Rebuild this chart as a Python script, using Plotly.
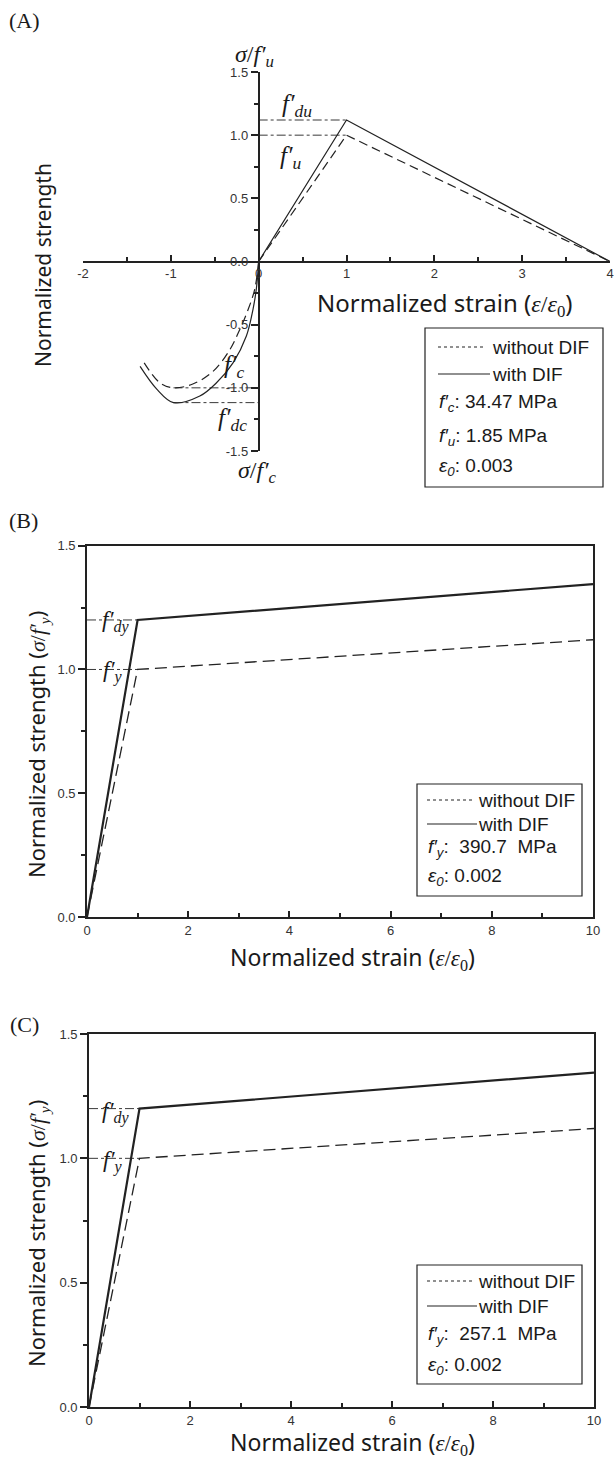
import plotly.graph_objects as go

W, H = 615, 1461
def px(x): return x / W
def py(y): return 1 - y / H

# ---------------- data ----------------
# Panel A: concrete (normalized strain, normalized strength)
a_ten_strain = [0, 1, 4]
a_ten_with = [0, 1.12, 0]
a_ten_without = [0, 1.0, 0]
a_comp_strain_with = [0, -0.027, -0.065, -0.14, -0.29, -0.48, -0.67, -0.97, -1.16, -1.35]
a_comp_with = [0, -0.22, -0.38, -0.59, -0.80, -0.96, -1.065, -1.117, -1.01, -0.83]
a_comp_strain_without = [0, -0.045, -0.12, -0.216, -0.33, -0.52, -0.75, -0.97, -1.125, -1.315]
a_comp_without = [0, -0.22, -0.38, -0.54, -0.70, -0.87, -0.97, -1.0, -0.96, -0.79]
a_ref_du = [1.12, 1.12]
a_ref_u = [1.0, 1.0]
a_ref_t_strain = [0, 1]
a_ref_dc = [-1.117, -1.117]
a_ref_c = [-1.0, -1.0]
a_ref_c_strain = [-0.97, 0]
a_xticks = [-2, -1, 0, 1, 2, 3, 4]
a_xticklabels = ["-2", "-1", "0", "1", "2", "3", "4"]
a_yticks = [-1.5, -1.0, -0.5, 0.0, 0.5, 1.0, 1.5]
a_yticklabels = ["-1.5", "-1.0", "-0.5", "0.0", "0.5", "1.0", "1.5"]

# Panel B & C: steel
s_strain = [0, 1, 10]
b_with = [0, 1.2, 1.345]
b_without = [0, 1.0, 1.12]
c_with = [0, 1.2, 1.345]
c_without = [0, 1.0, 1.12]
s_ref_strain = [0, 1]
s_ref_dy = [1.2, 1.2]
s_ref_y = [1.0, 1.0]

LC = "#222222"
TXT = "#1a1a1a"
SANS = "Liberation Sans"
TITLE = "Noto Sans"
SERIF = "Liberation Serif"

fig = go.Figure()

def line(x, y, xa, ya, width, dash=None, shape="linear"):
    fig.add_trace(go.Scatter(x=x, y=y, mode="lines", xaxis=xa, yaxis=ya,
                             line=dict(color=LC, width=width, dash=dash, shape=shape),
                             showlegend=False, hoverinfo="skip"))

# Panel A
line(a_ten_strain, a_ten_with, "x", "y", 1.2)
line(a_ten_strain, a_ten_without, "x", "y", 1.2, "9px,5px")
line(a_comp_strain_with, a_comp_with, "x", "y", 1.2, None, "spline")
line(a_comp_strain_without, a_comp_without, "x", "y", 1.2, "9px,5px", "spline")
line(a_ref_t_strain, a_ref_du, "x", "y", 0.9, "dashdot")
line(a_ref_t_strain, a_ref_u, "x", "y", 0.9, "dashdot")
line(a_ref_c_strain, a_ref_dc, "x", "y", 0.9, "dashdot")
line(a_ref_c_strain, a_ref_c, "x", "y", 0.9, "dashdot")

# Panel B
line(s_strain, b_with, "x2", "y2", 2.2)
line(s_strain, b_without, "x2", "y2", 1.3, "12px,6px")
line(s_ref_strain, s_ref_dy, "x2", "y2", 0.9, "dashdot")
line(s_ref_strain, s_ref_y, "x2", "y2", 0.9, "dashdot")

# Panel C
line(s_strain, c_with, "x3", "y3", 2.2)
line(s_strain, c_without, "x3", "y3", 1.3, "12px,6px")
line(s_ref_strain, s_ref_dy, "x3", "y3", 0.9, "dashdot")
line(s_ref_strain, s_ref_y, "x3", "y3", 0.9, "dashdot")

tickfont = dict(family=SANS, size=13, color="#333")
tickfont_b = dict(family=SANS, size=13, color="#333")

common = dict(showgrid=False, zeroline=False, showline=True, linecolor=LC, linewidth=1.8,
              tickcolor=LC, tickwidth=1.5, automargin=False)

fig.update_layout(
    width=W, height=H, margin=dict(l=0, r=0, t=0, b=0, pad=0, autoexpand=False),
    paper_bgcolor="white", plot_bgcolor="white", showlegend=False,
    xaxis=dict(domain=[px(83), px(610)], range=[-2, 4], anchor="free", position=py(261.5),
               ticks="inside", ticklen=6, tickvals=a_xticks, ticktext=a_xticklabels,
               tickfont=tickfont, minor=dict(tickvals=[-1.5, -0.5, 0.5, 1.5, 2.5, 3.5],
                                            ticks="inside", ticklen=4, tickcolor=LC),
               **common),
    yaxis=dict(domain=[py(451), py(72)], range=[-1.5, 1.5], anchor="free", position=px(258.7),
               ticks="outside", ticklen=7, tickvals=a_yticks, ticktext=a_yticklabels,
               tickfont=tickfont, minor=dict(tickvals=[-1.25, -0.75, -0.25, 0.25, 0.75, 1.25],
                                            ticks="outside", ticklen=4, tickcolor=LC),
               **common),
    xaxis2=dict(domain=[px(87), px(593)], range=[0, 10], anchor="y2", mirror=True,
                ticks="inside", ticklen=6, dtick=2, tick0=0, tickfont=tickfont_b,
                minor=dict(dtick=1, ticks="inside", ticklen=4, tickcolor=LC), **common),
    yaxis2=dict(domain=[py(917), py(545.7)], range=[0, 1.5], anchor="x2", mirror=True,
                ticks="outside", ticklen=7, dtick=0.5, tick0=0, tickformat=".1f", tickfont=tickfont_b,
                minor=dict(dtick=0.25, ticks="outside", ticklen=4, tickcolor=LC), **common),
    xaxis3=dict(domain=[px(89), px(594)], range=[0, 10], anchor="y3", mirror=True,
                ticks="inside", ticklen=6, dtick=2, tick0=0, tickfont=tickfont_b,
                minor=dict(dtick=1, ticks="inside", ticklen=4, tickcolor=LC), **common),
    yaxis3=dict(domain=[py(1407), py(1034)], range=[0, 1.5], anchor="x3", mirror=True,
                ticks="outside", ticklen=7, dtick=0.5, tick0=0, tickformat=".1f", tickfont=tickfont_b,
                minor=dict(dtick=0.25, ticks="outside", ticklen=4, tickcolor=LC), **common),
)

def ann(text, x, y, size, family, angle=0, xanchor="center"):
    fig.add_annotation(text=text, x=px(x), y=py(y), xref="paper", yref="paper",
                       showarrow=False, textangle=angle, xanchor=xanchor, yanchor="middle",
                       font=dict(size=size, family=family, color=TXT))

def serif(t):
    return "<span style='font-family:Liberation Serif'>" + t + "</span>"

strain_title = "Normalized strain (" + serif("<i>ε</i>/<i>ε</i><sub>0</sub>") + ")"
steel_title = "Normalized strength (" + serif("<i>σ</i>/<i>f′<sub>y</sub></i>") + ")"

# ---- Panel A text ----
ann("(A)", 24, 20, 22, SERIF)
ann("Normalized strength", 43, 265, 21, TITLE, -90)
ann(strain_title, 445, 303, 24, TITLE)
ann("<i>σ</i>/<i>f′<sub>u</sub></i>", 254, 56, 24, SERIF)
ann("<i>σ</i>/<i>f′<sub>c</sub></i>", 257, 472, 24, SERIF)
ann("<i>f′<sub>du</sub></i>", 297, 105, 25, SERIF)
ann("<i>f′<sub>u</sub></i>", 290, 157, 25, SERIF)
ann("<i>f′<sub>c</sub></i>", 234, 366, 25, SERIF)
ann("<i>f′<sub>dc</sub></i>", 232, 419, 25, SERIF)

# ---- Panel B text ----
ann("(B)", 23, 520, 22, SERIF)
ann(steel_title, 37, 745, 22, TITLE, -90)
ann(strain_title, 352, 957, 23, TITLE)
ann("<i>f′<sub>dy</sub></i>", 115, 621, 23, SERIF)
ann("<i>f′<sub>y</sub></i>", 112, 672, 23, SERIF)

# ---- Panel C text ----
ann("(C)", 24, 1024, 22, SERIF)
ann(steel_title, 37, 1234, 22, TITLE, -90)
ann(strain_title, 352, 1442, 23, TITLE)
ann("<i>f′<sub>dy</sub></i>", 115, 1112, 23, SERIF)
ann("<i>f′<sub>y</sub></i>", 112, 1161, 23, SERIF)

# ---- legend boxes ----
def legend_box(x0, y0, x1, y1, rows, info, size, lx_off, sample_len, text_x):
    fig.add_shape(type="rect", xref="paper", yref="paper", x0=px(x0), x1=px(x1),
                  y0=py(y1), y1=py(y0), line=dict(color=LC, width=1.2), fillcolor="white")
    lx0 = x0 + lx_off
    fig.add_shape(type="line", xref="paper", yref="paper", x0=px(lx0), x1=px(lx0 + sample_len - 4),
                  y0=py(rows[0]), y1=py(rows[0]), line=dict(color=LC, width=1.2, dash="dot"))
    fig.add_shape(type="line", xref="paper", yref="paper", x0=px(lx0), x1=px(lx0 + sample_len),
                  y0=py(rows[1]), y1=py(rows[1]), line=dict(color=LC, width=1.2))
    ann("without DIF", text_x, rows[0], size, SANS, xanchor="left")
    ann("with DIF", text_x, rows[1], size, SANS, xanchor="left")
    for txt, yy in zip(info, rows[2:]):
        ann(txt, lx0 - 1, yy, size, SANS, xanchor="left")

legend_box(425, 328, 603, 487, [347, 374, 403, 437, 467],
           ["<i>f′<sub>c</sub></i>: 34.47 MPa", "<i>f′<sub>u</sub></i>: 1.85 MPa",
            "<i>ε<sub>0</sub></i>: 0.003"], 19, 13, 52, 490)
legend_box(417, 784, 582, 896, [800, 824, 848, 877],
           ["<i>f′<sub>y</sub></i>:  390.7  MPa", "<i>ε<sub>0</sub></i>: 0.002"], 19, 10, 50, 476)
legend_box(417, 1265, 582, 1384, [1281, 1306, 1335, 1366],
           ["<i>f′<sub>y</sub></i>:  257.1  MPa", "<i>ε<sub>0</sub></i>: 0.002"], 19, 10, 50, 476)

fig.write_html("out.html", config={"displayModeBar": False},
               post_script="document.body.style.margin='0';document.body.style.overflow='hidden';")
